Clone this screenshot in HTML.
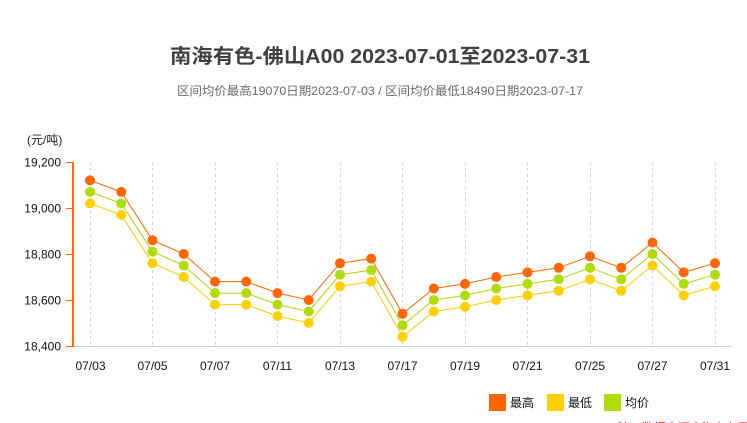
<!DOCTYPE html>
<html><head><meta charset="utf-8"><style>
html,body{margin:0;padding:0;background:#fff;}
svg{display:block;}
text{font-family:"Liberation Sans","Noto Sans CJK SC",sans-serif;}
</style></head><body>
<svg width="747" height="423" viewBox="0 0 747 423" xmlns="http://www.w3.org/2000/svg">
<rect width="747" height="423" fill="#fff"/>
<text x="380" y="63" text-anchor="middle" font-size="20" font-weight="bold" fill="#404040" textLength="420" lengthAdjust="spacingAndGlyphs">南海有色-佛山A00 2023-07-01至2023-07-31</text>
<text x="380" y="95" text-anchor="middle" font-size="12" fill="#6a6a6a" textLength="406" lengthAdjust="spacingAndGlyphs">区间均价最高19070日期2023-07-03 / 区间均价最低18490日期2023-07-17</text>
<text x="27" y="144" font-size="12" fill="#222">(元/吨)</text>
<g stroke="#d6d6d6" stroke-width="1" stroke-dasharray="3,3">
<line x1="90.5" y1="162" x2="90.5" y2="346"/>
<line x1="152.5" y1="162" x2="152.5" y2="346"/>
<line x1="215.5" y1="162" x2="215.5" y2="346"/>
<line x1="277.5" y1="162" x2="277.5" y2="346"/>
<line x1="340.5" y1="162" x2="340.5" y2="346"/>
<line x1="402.5" y1="162" x2="402.5" y2="346"/>
<line x1="465.5" y1="162" x2="465.5" y2="346"/>
<line x1="527.5" y1="162" x2="527.5" y2="346"/>
<line x1="590.5" y1="162" x2="590.5" y2="346"/>
<line x1="652.5" y1="162" x2="652.5" y2="346"/>
<line x1="715.5" y1="162" x2="715.5" y2="346"/>
</g>
<line x1="74" y1="346.5" x2="731" y2="346.5" stroke="#d0d0d0" stroke-width="1"/>
<line x1="73" y1="162" x2="73" y2="347" stroke="#ff6a10" stroke-width="2"/>
<g stroke="#ff6a10" stroke-width="1">
<line x1="66" y1="162.5" x2="72" y2="162.5"/>
<line x1="66" y1="208.5" x2="72" y2="208.5"/>
<line x1="66" y1="254.5" x2="72" y2="254.5"/>
<line x1="66" y1="300.5" x2="72" y2="300.5"/>
<line x1="66" y1="346.5" x2="72" y2="346.5"/>
</g>
<g font-size="12" fill="#111" text-anchor="end">
<text x="61" y="166.5">19,200</text>
<text x="61" y="212.5">19,000</text>
<text x="61" y="258.5">18,800</text>
<text x="61" y="304.5">18,600</text>
<text x="61" y="350.5">18,400</text>
</g>
<g font-size="12" fill="#111" text-anchor="middle">
<text x="90.5" y="370">07/03</text>
<text x="152.5" y="370">07/05</text>
<text x="215" y="370">07/07</text>
<text x="277.5" y="370">07/11</text>
<text x="340" y="370">07/13</text>
<text x="402.5" y="370">07/17</text>
<text x="465" y="370">07/19</text>
<text x="527.5" y="370">07/21</text>
<text x="590" y="370">07/25</text>
<text x="652.5" y="370">07/27</text>
<text x="715" y="370">07/31</text>
</g>
<!-- high -->
<polyline fill="none" stroke="#ff6600" stroke-width="1" points="90,180.4 121.25,191.9 152.5,240.2 183.75,254 215,281.6 246.25,281.6 277.5,293.1 308.75,300 340,263.2 371.25,258.6 402.5,313.8 433.75,288.5 465,283.9 496.25,277 527.5,272.4 558.75,267.8 590,256.3 621.25,267.8 652.5,242.5 683.75,272.4 715,263.2"/>
<!-- low -->
<polyline fill="none" stroke="#ffcc00" stroke-width="1" points="90,203.4 121.25,214.9 152.5,263.2 183.75,277 215,304.6 246.25,304.6 277.5,316.1 308.75,323 340,286.2 371.25,281.6 402.5,336.8 433.75,311.5 465,306.9 496.25,300 527.5,295.4 558.75,290.8 590,279.3 621.25,290.8 652.5,265.5 683.75,295.4 715,286.2"/>
<!-- avg -->
<polyline fill="none" stroke="#a8d80a" stroke-width="1" points="90,191.9 121.25,203.4 152.5,251.7 183.75,265.5 215,293.1 246.25,293.1 277.5,304.6 308.75,311.5 340,274.7 371.25,270.1 402.5,325.3 433.75,300 465,295.4 496.25,288.5 527.5,283.9 558.75,279.3 590,267.8 621.25,279.3 652.5,254 683.75,283.9 715,274.7"/>
<g fill="#ff6600">
<circle cx="90" cy="180.4" r="5"/><circle cx="121.25" cy="191.9" r="5"/><circle cx="152.5" cy="240.2" r="5"/><circle cx="183.75" cy="254" r="5"/><circle cx="215" cy="281.6" r="5"/><circle cx="246.25" cy="281.6" r="5"/><circle cx="277.5" cy="293.1" r="5"/><circle cx="308.75" cy="300" r="5"/><circle cx="340" cy="263.2" r="5"/><circle cx="371.25" cy="258.6" r="5"/><circle cx="402.5" cy="313.8" r="5"/><circle cx="433.75" cy="288.5" r="5"/><circle cx="465" cy="283.9" r="5"/><circle cx="496.25" cy="277" r="5"/><circle cx="527.5" cy="272.4" r="5"/><circle cx="558.75" cy="267.8" r="5"/><circle cx="590" cy="256.3" r="5"/><circle cx="621.25" cy="267.8" r="5"/><circle cx="652.5" cy="242.5" r="5"/><circle cx="683.75" cy="272.4" r="5"/><circle cx="715" cy="263.2" r="5"/>
</g>
<g fill="#ffd000">
<circle cx="90" cy="203.4" r="5"/><circle cx="121.25" cy="214.9" r="5"/><circle cx="152.5" cy="263.2" r="5"/><circle cx="183.75" cy="277" r="5"/><circle cx="215" cy="304.6" r="5"/><circle cx="246.25" cy="304.6" r="5"/><circle cx="277.5" cy="316.1" r="5"/><circle cx="308.75" cy="323" r="5"/><circle cx="340" cy="286.2" r="5"/><circle cx="371.25" cy="281.6" r="5"/><circle cx="402.5" cy="336.8" r="5"/><circle cx="433.75" cy="311.5" r="5"/><circle cx="465" cy="306.9" r="5"/><circle cx="496.25" cy="300" r="5"/><circle cx="527.5" cy="295.4" r="5"/><circle cx="558.75" cy="290.8" r="5"/><circle cx="590" cy="279.3" r="5"/><circle cx="621.25" cy="290.8" r="5"/><circle cx="652.5" cy="265.5" r="5"/><circle cx="683.75" cy="295.4" r="5"/><circle cx="715" cy="286.2" r="5"/>
</g>
<g fill="#b0dc0c">
<circle cx="90" cy="191.9" r="5"/><circle cx="121.25" cy="203.4" r="5"/><circle cx="152.5" cy="251.7" r="5"/><circle cx="183.75" cy="265.5" r="5"/><circle cx="215" cy="293.1" r="5"/><circle cx="246.25" cy="293.1" r="5"/><circle cx="277.5" cy="304.6" r="5"/><circle cx="308.75" cy="311.5" r="5"/><circle cx="340" cy="274.7" r="5"/><circle cx="371.25" cy="270.1" r="5"/><circle cx="402.5" cy="325.3" r="5"/><circle cx="433.75" cy="300" r="5"/><circle cx="465" cy="295.4" r="5"/><circle cx="496.25" cy="288.5" r="5"/><circle cx="527.5" cy="283.9" r="5"/><circle cx="558.75" cy="279.3" r="5"/><circle cx="590" cy="267.8" r="5"/><circle cx="621.25" cy="279.3" r="5"/><circle cx="652.5" cy="254" r="5"/><circle cx="683.75" cy="283.9" r="5"/><circle cx="715" cy="274.7" r="5"/>
</g>
<!-- legend -->
<rect x="489" y="394" width="17" height="17" fill="#ff6600"/>
<text x="510" y="407" font-size="12" fill="#111">最高</text>
<rect x="547" y="394" width="17" height="17" fill="#ffd000"/>
<text x="568" y="407" font-size="12" fill="#111">最低</text>
<rect x="604" y="394" width="17" height="17" fill="#b0dc0c"/>
<text x="625" y="407" font-size="12" fill="#111">均价</text>
<text x="618" y="432" font-size="12" fill="#ff0000">注：数据来源南海有色网</text>
</svg>
</body></html>
